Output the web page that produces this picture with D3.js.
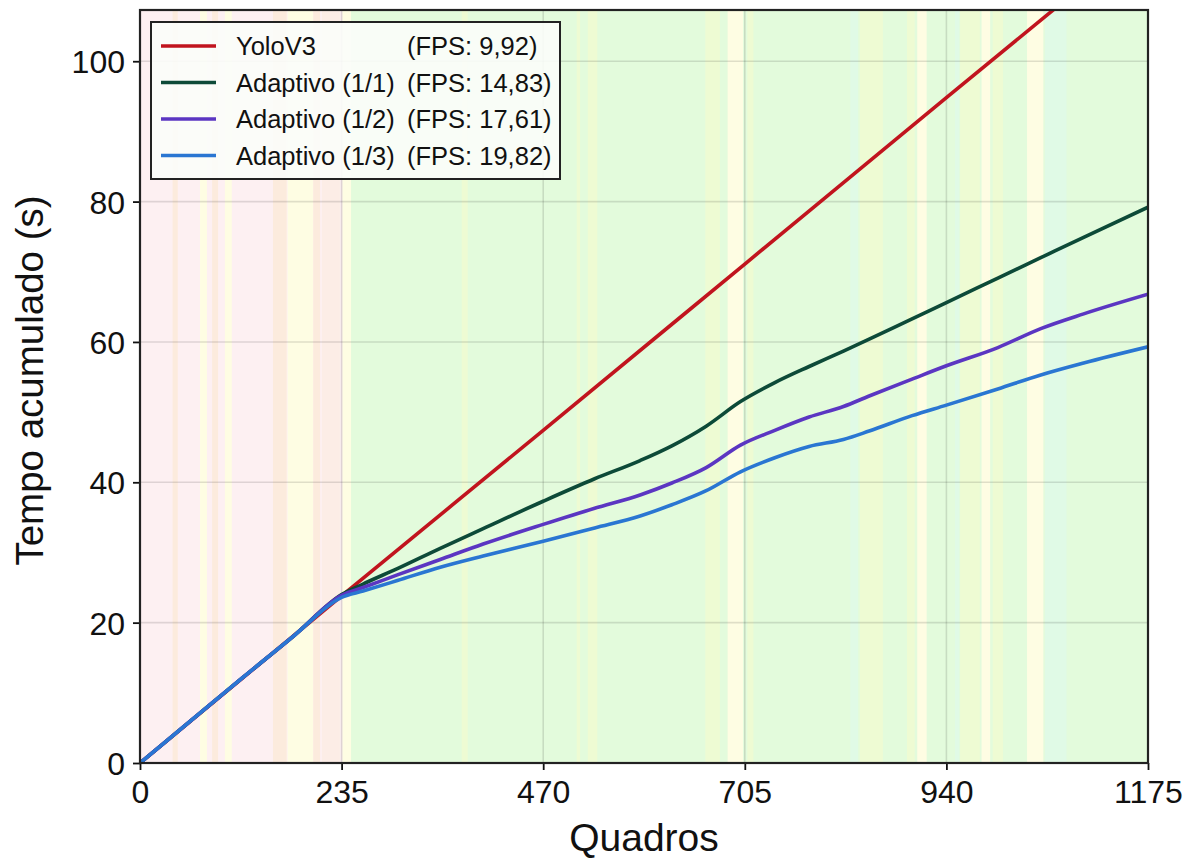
<!DOCTYPE html>
<html>
<head>
<meta charset="utf-8">
<script src="https://cdn.jsdelivr.net/npm/d3@7"></script>
<style>
  body { margin: 0; background: #fff; }
  svg text { font-family: "Liberation Sans", Arial, sans-serif; fill: #111; }
</style>
</head>
<body>
<div id="chart"></div>
<script>
// Frame positions (x) shared by the adaptive series
const adaptFrames = [0, 60, 120, 180, 235, 260, 300, 350, 400, 470, 530, 583, 620, 660, 700, 740, 780, 820, 850, 900, 940, 1000, 1050, 1100, 1175];
const adapt11 = [0, 6.1, 12.2, 18.2, 24.0, 25.5, 27.7, 30.6, 33.4, 37.3, 40.5, 43.1, 45.2, 48.0, 51.5, 54.2, 56.5, 58.7, 60.4, 63.3, 65.6, 69.1, 72.0, 74.9, 79.2];
const adapt12 = [0, 6.1, 12.2, 18.2, 23.9, 25.0, 26.8, 29.0, 31.2, 34.0, 36.3, 38.2, 39.9, 42.1, 45.3, 47.4, 49.3, 50.8, 52.3, 54.7, 56.6, 59.2, 61.9, 64.0, 66.8];
const adapt13 = [0, 6.1, 12.2, 18.2, 23.6, 24.5, 26.0, 27.9, 29.5, 31.6, 33.5, 35.2, 36.8, 38.8, 41.5, 43.5, 45.1, 46.1, 47.3, 49.5, 51.0, 53.3, 55.3, 57.0, 59.3];

const yoloFrames = [0, 235, 470, 705, 940, 1175];
const yoloValues = [0, 23.8, 47.4, 71.1, 94.8, 118.4];

const seriesNames = ["YoloV3", "Adaptivo (1/1)", "Adaptivo (1/2)", "Adaptivo (1/3)"];
const seriesFps = ["(FPS: 9,92)", "(FPS: 14,83)", "(FPS: 17,61)", "(FPS: 19,82)"];
const seriesColors = ["#c1141e", "#0d4a38", "#5b36c2", "#2a76d2"];

const xTicks = [0, 235, 470, 705, 940, 1175];
const yTicks = [0, 20, 40, 60, 80, 100];

// background state bands: [start frame, end frame, kind]
const baseBands = [[0, 240, "r"], [240, 1175, "g"]];
const stripeBands = [
  [38, 44, "o"], [70, 78, "y"], [84, 91, "o"], [99, 107, "y"], [155, 171, "o"],
  [172, 202, "y"], [202, 210, "o"], [212, 233, "o2"], [236, 246, "y"],
  [375, 382, "yg"], [509, 513, "yg"], [522, 533, "yg"], [659, 676, "yg"],
  [685, 703, "y"], [708, 715, "yg"], [828, 837, "c"], [839, 866, "yg"],
  [894, 903, "yg"], [906, 917, "y"], [950, 955, "c"], [956, 979, "yg"],
  [981, 991, "y"], [994, 1006, "yg"], [1034, 1053, "y"], [1055, 1080, "c"]
];
const bandColors = {
  r: "#fdf0f2", g: "#e3fbdc", o: "#fcebdd", o2: "#fcede6",
  y: "#fefde3", yg: "#eefbd3", c: "#e0fae6"
};

const width = 1200, height = 858;
const margin = { left: 140, right: 52, top: 10, bottom: 95 };

const svg = d3.select('#chart')
  .append('svg')
  .attr('width', width)
  .attr('height', height);

const x = d3.scaleLinear()
  .domain([0, 1175])
  .range([margin.left, width - margin.right]);

const y = d3.scaleLinear()
  .domain([0, 107.3])
  .range([height - margin.bottom, margin.top]);

svg.append('defs').append('clipPath')
  .attr('id', 'plot-clip')
  .append('rect')
  .attr('x', x(0))
  .attr('y', y(107.3))
  .attr('width', x(1175) - x(0))
  .attr('height', y(0) - y(107.3));

const plot = svg.append('g').attr('clip-path', 'url(#plot-clip)');

// Background bands
plot.selectAll('.base')
  .data(baseBands)
  .enter()
  .append('rect')
  .attr('x', d => x(d[0]))
  .attr('y', y(107.3))
  .attr('width', d => x(d[1]) - x(d[0]))
  .attr('height', y(0) - y(107.3))
  .attr('fill', d => bandColors[d[2]]);

plot.selectAll('.stripe')
  .data(stripeBands)
  .enter()
  .append('rect')
  .attr('x', d => x(d[0]))
  .attr('y', y(107.3))
  .attr('width', d => x(d[1]) - x(d[0]))
  .attr('height', y(0) - y(107.3))
  .attr('fill', d => bandColors[d[2]]);

// Grid
plot.selectAll('.gx')
  .data(xTicks)
  .enter()
  .append('line')
  .attr('x1', d => x(d)).attr('x2', d => x(d))
  .attr('y1', y(0)).attr('y2', y(107.3))
  .attr('stroke', '#000')
  .attr('stroke-opacity', 0.12)
  .attr('stroke-width', 1.6);

plot.selectAll('.gy')
  .data(yTicks)
  .enter()
  .append('line')
  .attr('y1', d => y(d)).attr('y2', d => y(d))
  .attr('x1', x(0)).attr('x2', x(1175))
  .attr('stroke', '#000')
  .attr('stroke-opacity', 0.12)
  .attr('stroke-width', 1.6);

// Lines
const line = d3.line()
  .x(d => x(d[0]))
  .y(d => y(d[1]))
  .curve(d3.curveMonotoneX);

const seriesData = [
  d3.zip(yoloFrames, yoloValues),
  d3.zip(adaptFrames, adapt11),
  d3.zip(adaptFrames, adapt12),
  d3.zip(adaptFrames, adapt13)
];

plot.selectAll('.series')
  .data(seriesData)
  .enter()
  .append('path')
  .attr('d', line)
  .attr('fill', 'none')
  .attr('stroke', (d, i) => seriesColors[i])
  .attr('stroke-width', 3.6)
  .attr('stroke-linejoin', 'round');

// Axes
const xAxis = svg.append('g')
  .attr('transform', `translate(0, ${y(0)})`)
  .call(d3.axisBottom(x).tickValues(xTicks).tickFormat(d3.format('d')).tickSize(7).tickPadding(7));

const yAxis = svg.append('g')
  .attr('transform', `translate(${x(0)}, 0)`)
  .call(d3.axisLeft(y).tickValues(yTicks).tickSize(7).tickPadding(8));

[xAxis, yAxis].forEach(ax => {
  ax.select('.domain').remove();
  ax.selectAll('.tick line').attr('stroke', '#111').attr('stroke-width', 1.8);
  ax.selectAll('.tick text').style('font-size', '32px').attr('fill', '#111');
});
xAxis.selectAll('.tick text').attr('dy', '0.8em');
yAxis.selectAll('.tick text').attr('dy', '0.36em');

// Frame
svg.append('rect')
  .attr('x', x(0))
  .attr('y', y(107.3))
  .attr('width', x(1175) - x(0))
  .attr('height', y(0) - y(107.3))
  .attr('fill', 'none')
  .attr('stroke', '#222')
  .attr('stroke-width', 2.2);

// Axis titles
svg.append('text')
  .attr('x', (x(0) + x(1175)) / 2)
  .attr('y', 851)
  .attr('text-anchor', 'middle')
  .style('font-size', '39px')
  .text('Quadros');

svg.append('text')
  .attr('transform', `translate(43, ${(y(0) + y(107.3)) / 2 - 6}) rotate(-90)`)
  .attr('text-anchor', 'middle')
  .style('font-size', '38.5px')
  .text('Tempo acumulado (s)');

// Legend
const legend = svg.append('g').attr('transform', 'translate(151, 22)');

legend.append('rect')
  .attr('width', 409)
  .attr('height', 157)
  .attr('fill', '#fbfdf9')
  .attr('fill-opacity', 0.9)
  .attr('stroke', '#222')
  .attr('stroke-width', 2);

const rows = legend.selectAll('.row')
  .data(seriesNames)
  .enter()
  .append('g')
  .attr('transform', (d, i) => `translate(0, ${24 + i * 36.5})`);

rows.append('line')
  .attr('x1', 10).attr('x2', 65)
  .attr('stroke', (d, i) => seriesColors[i])
  .attr('stroke-width', 3.6);

rows.append('text')
  .attr('x', 85)
  .attr('dy', '0.36em')
  .style('font-size', '25.5px')
  .text(d => d);

rows.append('text')
  .attr('x', 256)
  .attr('dy', '0.36em')
  .style('font-size', '25.5px')
  .text((d, i) => seriesFps[i]);
</script>
</body>
</html>
